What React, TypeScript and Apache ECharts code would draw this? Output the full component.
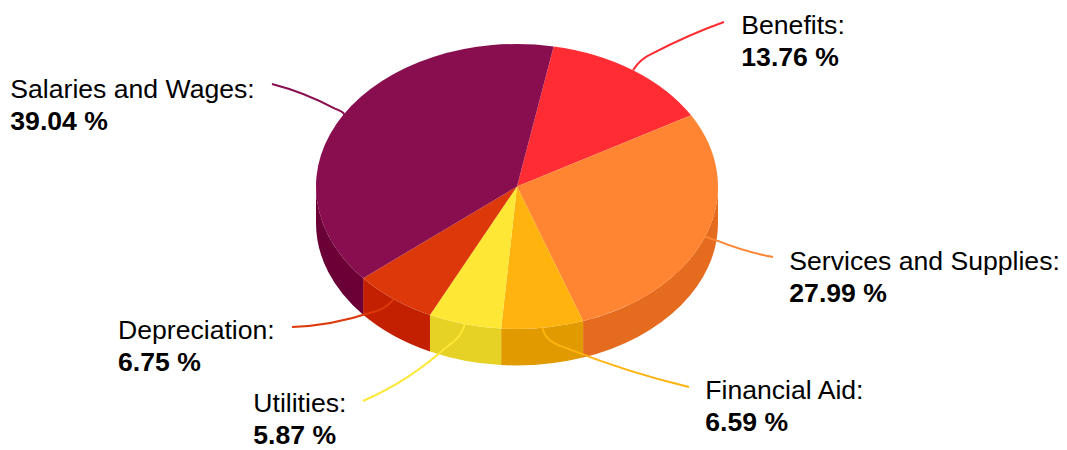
import React, { useEffect, useRef } from "react";
import * as echarts from "echarts";

const categories = ["Benefits", "Services and Supplies", "Financial Aid", "Utilities", "Depreciation", "Salaries and Wages"];
const shares = [13.76, 27.99, 6.59, 5.87, 6.75, 39.04];
const topColors = ["#ff2d33", "#ff8533", "#ffb30f", "#ffe835", "#dd380a", "#880e4f"];
const sideColors = ["#e01a1f", "#e56b1f", "#e19a00", "#e5d224", "#c22000", "#6a0036"];

const CX = 517, CY = 186.5, RX = 201, RY = 142.5, DEPTH = 36.5, START = 10.5;
// label anchor, then the leader's knee, end and bow, per category
const labelAt = [[741.3, 25], [789.3, 261], [705.3, 390], [253.3, 403], [118, 330], [10.3, 89]];
const kneeAt = [[640, 59], [708, 238], [544, 341], [462, 337], [385, 310], [346, 113]];
const endAt = [[724, 22], [773, 257], [689, 387], [363, 401], [292, 327], [272, 84]];
const bowAt = [[0, -3], [0, 3], [0, 5], [3, 8], [0, 6], [1, -4]];

const pt = (deg: number, dy = 0): [number, number] => {
  const r = (deg * Math.PI) / 180;
  return [CX + RX * Math.sin(r), CY - RY * Math.cos(r) + dy];
};
const rangeOf = (i: number): [number, number] => {
  let sum = 0;
  for (let k = 0; k < i; k++) sum += shares[k];
  return [START + sum * 3.6, START + (sum + shares[i]) * 3.6];
};
const fmt = (p: [number, number]) => `${p[0].toFixed(2)} ${p[1].toFixed(2)}`;
const arc = (a: number, b: number, dy: number) => {
  const large = Math.abs(b - a) > 180 ? 1 : 0;
  const sweep = b > a ? 1 : 0;
  return `A ${RX} ${RY} 0 ${large} ${sweep} ${fmt(pt(b, dy))}`;
};

const renderSide = (_: any, api: any) => {
  const i = api.value(0);
  const [a0, a1] = rangeOf(i);
  const s = Math.max(a0, 90), e = Math.min(a1, 270);
  if (e <= s) return { type: "group", children: [] };
  const d = `M ${fmt(pt(s))} ${arc(s, e, 0)} L ${fmt(pt(e, DEPTH))} ${arc(e, s, DEPTH)} Z`;
  return { type: "path", shape: { pathData: d, layout: "cover" }, style: { fill: sideColors[i] }, silent: true };
};

const renderTop = (_: any, api: any) => {
  const i = api.value(0);
  const [a0, a1] = rangeOf(i);
  const d = `M ${CX} ${CY} L ${fmt(pt(a0))} ${arc(a0, a1, 0)} Z`;
  return { type: "path", shape: { pathData: d, layout: "cover" }, style: { fill: topColors[i] }, silent: true };
};

const renderLabel = (_: any, api: any) => {
  const i = api.value(0);
  const [a0, a1] = rangeOf(i);
  const st = pt((a0 + a1) / 2);
  const kn = kneeAt[i], en = endAt[i], la = labelAt[i], bow = bowAt[i];
  const p1x = kn[0] + (en[0] - kn[0]) * 0.15, p1y = kn[1] + (en[1] - kn[1]) * 0.15;
  const cx = (p1x + en[0]) / 2 + bow[0], cy = (p1y + en[1]) / 2 + bow[1];
  const d = `M ${fmt(st)} Q ${kn[0]} ${kn[1]} ${p1x} ${p1y} Q ${cx} ${cy} ${en[0]} ${en[1]}`;
  return {
    type: "group",
    children: [
      { type: "path", shape: { pathData: d, layout: "cover" }, style: { fill: "none", stroke: topColors[i], lineWidth: 2 }, silent: true },
      { type: "text", style: { text: `${categories[i]}:`, x: la[0], y: la[1], fill: "#000", font: "26.6px 'Liberation Sans', Arial, sans-serif", verticalAlign: "middle", align: "left" } },
      { type: "text", style: { text: `${shares[i].toFixed(2)} %`, x: la[0], y: la[1] + 32, fill: "#000", font: "bold 26.6px 'Liberation Sans', Arial, sans-serif", verticalAlign: "middle", align: "left" } },
    ],
  };
};

export default function App() {
  const ref = useRef<HTMLDivElement>(null);
  useEffect(() => {
    document.body.style.margin = "0";
    const chart = echarts.init(ref.current!, undefined, { renderer: "svg" });
    const data = shares.map((v, i) => [i, v]);
    chart.setOption({
      animation: false,
      backgroundColor: "#fff",
      series: [
        { type: "custom", coordinateSystem: "none", data, renderItem: renderSide, z: 1, silent: true },
        { type: "custom", coordinateSystem: "none", data, renderItem: renderTop, z: 2, silent: true },
        { type: "custom", coordinateSystem: "none", data, renderItem: renderLabel, z: 3, silent: true },
      ],
    });
    return () => chart.dispose();
  }, []);
  return <div ref={ref} style={{ width: 1067, height: 450 }} />;
}
